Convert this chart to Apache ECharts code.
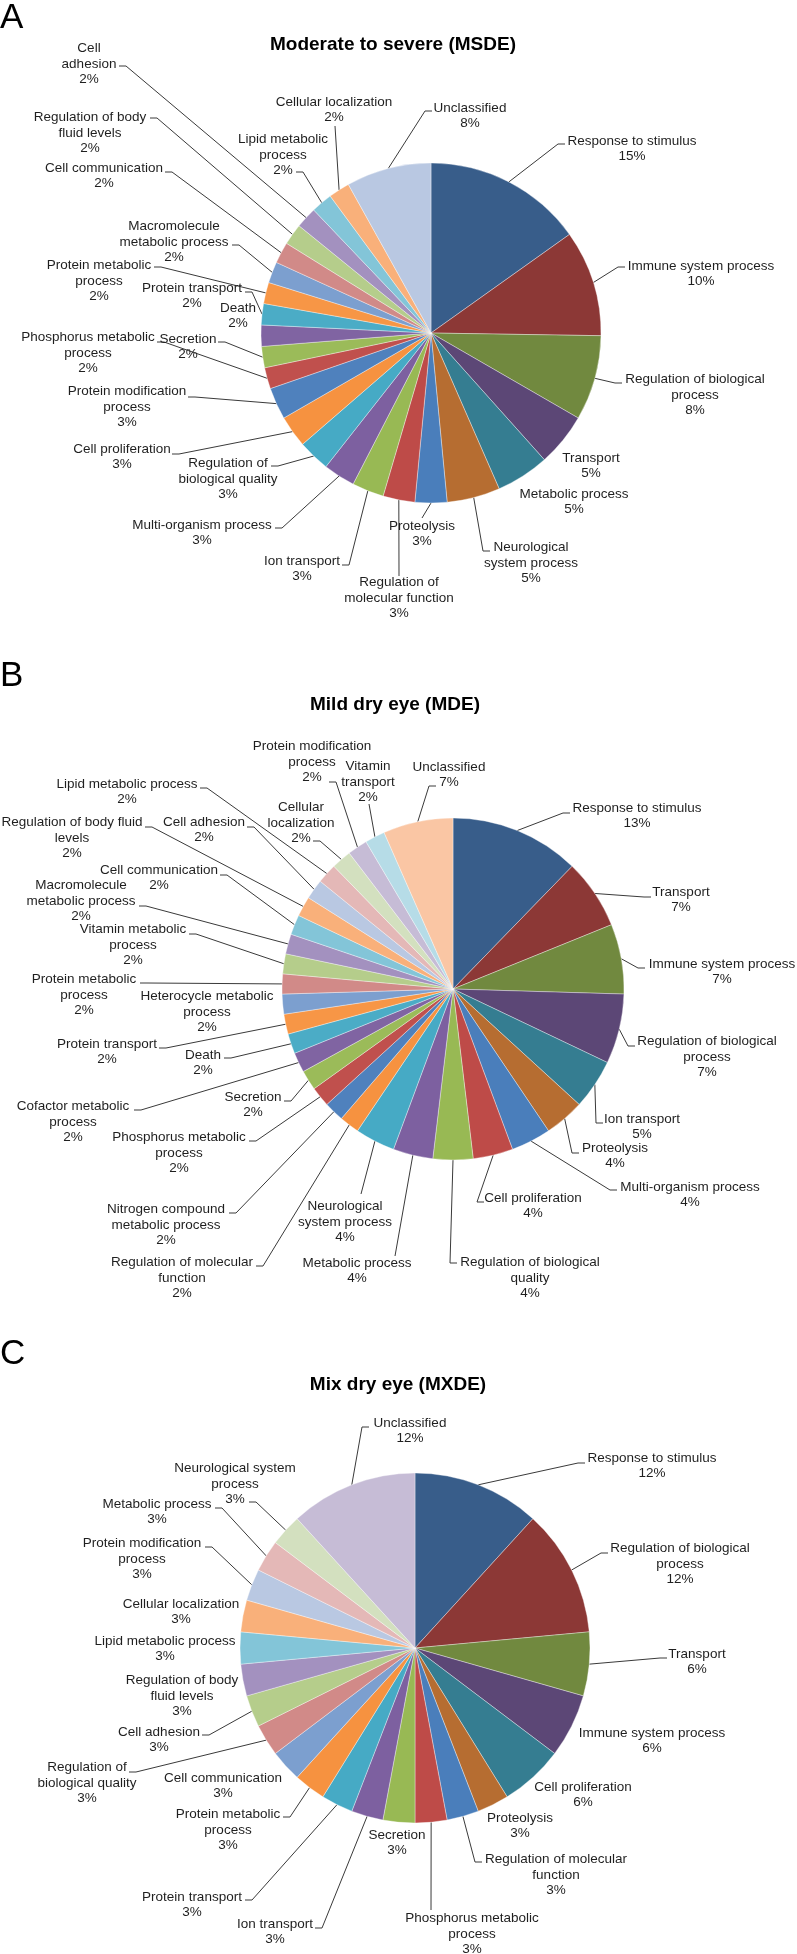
<!DOCTYPE html>
<html>
<head>
<meta charset="utf-8">
<title>GO biological process pies</title>
<script src="https://cdn.jsdelivr.net/npm/echarts@6.0.0/dist/echarts.min.js"></script>
<style>
  html, body { margin: 0; padding: 0; background: #fff; }
  #chart { width: 797px; height: 1954px; }
</style>
</head>
<body>
<div id="chart"></div>
<script>
// ---- data (percent shown on each slice label) ----
const namesA = ['Response to stimulus', 'Immune system process', 'Regulation of biological process', 'Transport',
  'Metabolic process', 'Neurological system process', 'Proteolysis', 'Regulation of molecular function',
  'Ion transport', 'Multi-organism process', 'Regulation of biological quality', 'Cell proliferation',
  'Protein modification process', 'Phosphorus metabolic process', 'Secretion', 'Death', 'Protein transport',
  'Protein metabolic process', 'Macromolecule metabolic process', 'Cell communication',
  'Regulation of body fluid levels', 'Cell adhesion', 'Lipid metabolic process', 'Cellular localization', 'Unclassified'];
const valuesA = [15, 10, 8, 5, 5, 5, 3, 3, 3, 3, 3, 3, 3, 2, 2, 2, 2, 2, 2, 2, 2, 2, 2, 2, 8];

const namesB = ['Response to stimulus', 'Transport', 'Immune system process', 'Regulation of biological process',
  'Ion transport', 'Proteolysis', 'Multi-organism process', 'Cell proliferation', 'Regulation of biological quality',
  'Metabolic process', 'Neurological system process', 'Regulation of molecular function',
  'Nitrogen compound metabolic process', 'Phosphorus metabolic process', 'Secretion', 'Cofactor metabolic process',
  'Death', 'Protein transport', 'Heterocycle metabolic process', 'Protein metabolic process',
  'Vitamin metabolic process', 'Macromolecule metabolic process', 'Cell communication',
  'Regulation of body fluid levels', 'Cell adhesion', 'Lipid metabolic process', 'Cellular localization',
  'Protein modification process', 'Vitamin transport', 'Unclassified'];
const valuesB = [13, 7, 7, 7, 5, 4, 4, 4, 4, 4, 4, 2, 2, 2, 2, 2, 2, 2, 2, 2, 2, 2, 2, 2, 2, 2, 2, 2, 2, 7];

const namesC = ['Response to stimulus', 'Regulation of biological process', 'Transport', 'Immune system process',
  'Cell proliferation', 'Proteolysis', 'Regulation of molecular function', 'Phosphorus metabolic process',
  'Secretion', 'Ion transport', 'Protein transport', 'Protein metabolic process', 'Cell communication',
  'Regulation of biological quality', 'Cell adhesion', 'Regulation of body fluid levels', 'Lipid metabolic process',
  'Cellular localization', 'Protein modification process', 'Metabolic process', 'Neurological system process',
  'Unclassified'];
const valuesC = [12, 12, 6, 6, 6, 3, 3, 3, 3, 3, 3, 3, 3, 3, 3, 3, 3, 3, 3, 3, 3, 12];

// ---- colours (Office 2007 accents, grouped by shade) ----
const shades = {
  dark:    ['#385D8A', '#8C3836', '#71893F', '#5C4776', '#357D91', '#B66D31'],
  normal:  ['#4A7EBB', '#BE4B48', '#98B954', '#7D60A0', '#46AAC5', '#F69240'],
  normal2: ['#4F81BD', '#C0504D', '#9BBB59', '#8064A2', '#4BACC6', '#F79646'],
  light:   ['#7C9FCF', '#D18A88', '#B5CD8B', '#A391BF', '#83C5D8', '#F9B07A'],
  pale:    ['#B9C8E2', '#E4B8B7', '#D3E0BF', '#C6BCD6', '#B6DCE7', '#FAC6A4']
};
const groupsA = ['dark', 'normal', 'normal2', 'light', 'pale'];
const groupsB = ['dark', 'normal', 'normal2', 'light', 'pale'];
const groupsC = ['dark', 'normal', 'light', 'pale'];

// ---- label wrapping ----
const wrapA = {
  'Cell adhesion': 'Cell\nadhesion',
  'Regulation of body fluid levels': 'Regulation of body\nfluid levels',
  'Lipid metabolic process': 'Lipid metabolic\nprocess',
  'Macromolecule metabolic process': 'Macromolecule\nmetabolic process',
  'Protein metabolic process': 'Protein metabolic\nprocess',
  'Phosphorus metabolic process': 'Phosphorus metabolic\nprocess',
  'Protein modification process': 'Protein modification\nprocess',
  'Regulation of biological quality': 'Regulation of\nbiological quality',
  'Regulation of molecular function': 'Regulation of\nmolecular function',
  'Neurological system process': 'Neurological\nsystem process',
  'Regulation of biological process': 'Regulation of biological\nprocess'
};
const wrapB = {
  'Protein modification process': 'Protein modification\nprocess',
  'Vitamin transport': 'Vitamin\ntransport',
  'Cellular localization': 'Cellular\nlocalization',
  'Regulation of body fluid levels': 'Regulation of body fluid\nlevels',
  'Macromolecule metabolic process': 'Macromolecule\nmetabolic process',
  'Vitamin metabolic process': 'Vitamin metabolic\nprocess',
  'Protein metabolic process': 'Protein metabolic\nprocess',
  'Heterocycle metabolic process': 'Heterocycle metabolic\nprocess',
  'Cofactor metabolic process': 'Cofactor metabolic\nprocess',
  'Phosphorus metabolic process': 'Phosphorus metabolic\nprocess',
  'Nitrogen compound metabolic process': 'Nitrogen compound\nmetabolic process',
  'Regulation of molecular function': 'Regulation of molecular\nfunction',
  'Neurological system process': 'Neurological\nsystem process',
  'Regulation of biological quality': 'Regulation of biological\nquality',
  'Regulation of biological process': 'Regulation of biological\nprocess'
};
const wrapC = {
  'Regulation of biological process': 'Regulation of biological\nprocess',
  'Regulation of molecular function': 'Regulation of molecular\nfunction',
  'Phosphorus metabolic process': 'Phosphorus metabolic\nprocess',
  'Protein metabolic process': 'Protein metabolic\nprocess',
  'Regulation of biological quality': 'Regulation of\nbiological quality',
  'Regulation of body fluid levels': 'Regulation of body\nfluid levels',
  'Protein modification process': 'Protein modification\nprocess',
  'Neurological system process': 'Neurological system\nprocess'
};

// ---- label placement: [text x, text y, leader end x, leader end y, side] ----
const placeA = [
  [632, 149, 565, 144, 'l'], [701, 274, 625, 267, 'l'], [695, 395, 622, 383, 'l'], [591, 466],
  [574, 502], [531, 563, 490, 551, 'l'], [422, 534, 422, 518, 'u'], [399, 598, 399, 576, 'u'],
  [302, 569, 342, 565, 'r'], [202, 533, 275, 528, 'r'], [228, 479, 271, 466, 'r'], [122, 457, 172, 454, 'r'],
  [127, 407, 188, 397, 'r'], [88, 353, 157, 342, 'r'], [188, 347, 218, 342, 'r'], [238, 316],
  [192, 296, 245, 292, 'r'], [99, 281, 154, 267, 'r'], [174, 242, 232, 245, 'r'], [104, 176, 165, 172, 'r'],
  [90, 133, 150, 118, 'r'], [89, 64, 119, 66, 'r'], [283, 155, 296, 172, 'r'], [334, 110, 335, 126, 'd'],
  [470, 116, 432, 111, 'l']
];
const placeB = [
  [637, 816, 570, 813, 'l'], [681, 900, 651, 897, 'l'], [722, 972, 645, 968, 'l'], [707, 1057, 635, 1046, 'l'],
  [642, 1127, 603, 1123, 'l'], [615, 1156, 579, 1153, 'l'], [690, 1195, 617, 1190, 'l'], [533, 1206, 484, 1202, 'l'],
  [530, 1278, 457, 1263, 'l'], [357, 1271, 395, 1256, 'u'], [345, 1222, 361, 1194, 'u'], [182, 1278, 256, 1266, 'r'],
  [166, 1225, 229, 1213, 'r'], [179, 1153, 249, 1141, 'r'], [253, 1105, 284, 1101, 'r'], [73, 1122, 134, 1110, 'r'],
  [203, 1063, 224, 1058, 'r'], [107, 1052, 159, 1048, 'r'], [207, 1012], [84, 995, 140, 983, 'r'],
  [133, 945, 189, 934, 'r'], [81, 901, 139, 906, 'r'], [159, 878, 220, 875, 'r'], [72, 838, 145, 827, 'r'],
  [204, 830, 247, 827, 'r'], [127, 792, 200, 788, 'r'], [301, 823, 313, 841, 'r'], [312, 762, 329, 782, 'r'],
  [368, 782, 369, 804, 'd'], [449, 775, 436, 786, 'l']
];
const placeC = [
  [652, 1466, 585, 1463, 'l'], [680, 1564, 608, 1553, 'l'], [697, 1662, 667, 1658, 'l'], [652, 1741],
  [583, 1795], [520, 1826], [556, 1875, 482, 1862, 'l'], [472, 1934, 431, 1910, 'u'],
  [397, 1843], [275, 1932, 315, 1928, 'r'], [192, 1905, 245, 1900, 'r'], [228, 1830, 283, 1817, 'r'],
  [223, 1786], [87, 1783, 129, 1772, 'r'], [159, 1740, 202, 1735, 'r'], [182, 1696],
  [165, 1649], [181, 1612], [142, 1559, 205, 1547, 'r'], [157, 1512, 215, 1508, 'r'],
  [235, 1484, 249, 1502, 'r'], [410, 1431, 369, 1427, 'l']
];

const FONT = '"Liberation Sans", Arial, sans-serif';

function pieSeries(names, values, groups, wrap, place, center, radius) {
  return {
    type: 'pie',
    center: center,
    radius: radius,
    startAngle: 90,
    clockwise: true,
    avoidLabelOverlap: false,
    silent: true,
    data: names.map((n, i) => ({
      name: n,
      value: values[i],
      itemStyle: { color: shades[groups[Math.floor(i / 6)]][i % 6] }
    })),
    itemStyle: { borderColor: 'rgba(255,255,255,0.6)', borderWidth: 0.6 },
    label: {
      show: true,
      position: 'outside',
      formatter: p => (wrap[p.name] || p.name) + '\n' + p.value + '%',
      color: '#1f1f1f',
      fontFamily: FONT,
      fontSize: 13.5,
      lineHeight: 15.5
    },
    labelLine: { show: true, length: 8, length2: 8, lineStyle: { color: '#3a3a3a', width: 1 } },
    labelLayout: function (p) {
      const L = place[p.dataIndex];
      const out = { x: L[0], y: L[1], align: 'center', verticalAlign: 'middle' };
      if (p.labelLinePoints) {
        const p0 = [p.labelLinePoints[0][0], p.labelLinePoints[0][1]];
        if (L[4]) {
          const a = [L[2], L[3]];
          let e = a.slice();
          if (L[4] === 'l') e = [a[0] - 7, a[1]];
          if (L[4] === 'r') e = [a[0] + 7, a[1]];
          out.labelLinePoints = [p0, e, a];
        } else {
          out.labelLinePoints = [p0, p0, p0];
        }
      }
      return out;
    }
  };
}

function heading(text, x, y) {
  return { type: 'text', x: x, y: y, style: { text: text, font: 'bold 19px ' + FONT, fill: '#000', textAlign: 'center', textVerticalAlign: 'middle' } };
}
function panelLetter(text, y) {
  return { type: 'text', x: 0, y: y, style: { text: text, font: '35px ' + FONT, fill: '#000', textAlign: 'left', textVerticalAlign: 'middle' } };
}

const chart = echarts.init(document.getElementById('chart'));
chart.setOption({
  animation: false,
  backgroundColor: '#fff',
  graphic: [
    panelLetter('A', 18), heading('Moderate to severe (MSDE)', 393, 45),
    panelLetter('B', 676), heading('Mild dry eye (MDE)', 395, 705),
    panelLetter('C', 1354), heading('Mix dry eye (MXDE)', 398, 1385)
  ],
  series: [
    pieSeries(namesA, valuesA, groupsA, wrapA, placeA, [431, 333], 170),
    pieSeries(namesB, valuesB, groupsB, wrapB, placeB, [453, 989], 171),
    pieSeries(namesC, valuesC, groupsC, wrapC, placeC, [415, 1648], 175)
  ]
});
</script>
</body>
</html>
